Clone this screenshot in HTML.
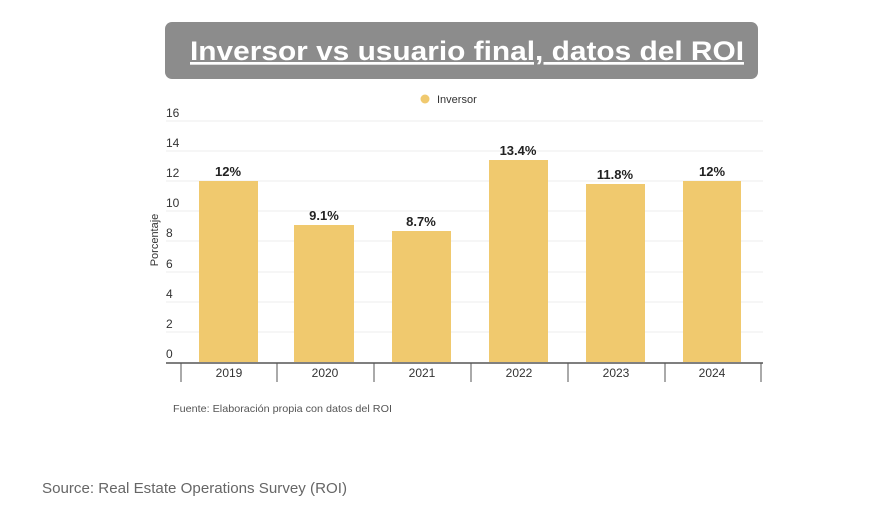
<!DOCTYPE html>
<html><head><meta charset="utf-8"><style>
body{margin:0;background:#fff;}
</style></head><body>
<svg width="892" height="507" xmlns="http://www.w3.org/2000/svg" font-family="Liberation Sans, sans-serif">
<rect width="892" height="507" fill="#fff"/>
<rect x="165" y="22" width="593" height="57" rx="7" fill="#8c8c8c"/>
<text x="190" y="60" textLength="554" lengthAdjust="spacingAndGlyphs" fill="#fff" font-size="27" font-weight="bold" text-decoration="underline">Inversor vs usuario final, datos del ROI </text>
<circle cx="425" cy="99" r="4.5" fill="#f0c96e"/>
<text x="437" y="103" font-size="11" fill="#333">Inversor</text>
<g stroke="#ececec" stroke-width="1">
<line x1="166" x2="763" y1="121" y2="121"/><line x1="166" x2="763" y1="151" y2="151"/>
<line x1="166" x2="763" y1="181" y2="181"/><line x1="166" x2="763" y1="211" y2="211"/>
<line x1="166" x2="763" y1="241" y2="241"/><line x1="166" x2="763" y1="272" y2="272"/>
<line x1="166" x2="763" y1="302" y2="302"/><line x1="166" x2="763" y1="332" y2="332"/>
</g>
<g font-size="12" fill="#333">
<text x="166" y="117">16</text><text x="166" y="147">14</text><text x="166" y="177">12</text>
<text x="166" y="207">10</text><text x="166" y="237">8</text><text x="166" y="268">6</text>
<text x="166" y="298">4</text><text x="166" y="328">2</text><text x="166" y="358">0</text>
</g>
<text transform="translate(158,240) rotate(-90)" text-anchor="middle" font-size="11" fill="#333">Porcentaje</text>
<g fill="#f0c96e">
<rect x="199" y="181" width="59" height="181"/>
<rect x="294" y="225" width="60" height="137"/>
<rect x="392" y="231" width="59" height="131"/>
<rect x="489" y="160" width="59" height="202"/>
<rect x="586" y="184" width="59" height="178"/>
<rect x="683" y="181" width="58" height="181"/>
</g>
<g font-size="13" font-weight="bold" fill="#222" text-anchor="middle">
<text x="228" y="176">12%</text><text x="324" y="220">9.1%</text><text x="421" y="226">8.7%</text>
<text x="518" y="155">13.4%</text><text x="615" y="179">11.8%</text><text x="712" y="176">12%</text>
</g>
<line x1="166" x2="763" y1="363" y2="363" stroke="#333" stroke-width="1.3"/>
<g stroke="#555" stroke-width="1">
<line x1="181" x2="181" y1="363" y2="382"/><line x1="277" x2="277" y1="363" y2="382"/>
<line x1="374" x2="374" y1="363" y2="382"/><line x1="471" x2="471" y1="363" y2="382"/>
<line x1="568" x2="568" y1="363" y2="382"/><line x1="665" x2="665" y1="363" y2="382"/>
<line x1="761" x2="761" y1="363" y2="382"/>
</g>
<g font-size="12" fill="#333" text-anchor="middle">
<text x="229" y="377">2019</text><text x="325" y="377">2020</text><text x="422" y="377">2021</text>
<text x="519" y="377">2022</text><text x="616" y="377">2023</text><text x="712" y="377">2024</text>
</g>
<text x="173" y="412" font-size="10.5" textLength="219" lengthAdjust="spacingAndGlyphs" fill="#555">Fuente: Elaboración propia con datos del ROI</text>
<text x="42" y="493" font-size="15" textLength="305" lengthAdjust="spacingAndGlyphs" fill="#666">Source: Real Estate Operations Survey (ROI)</text>
</svg>
</body></html>
